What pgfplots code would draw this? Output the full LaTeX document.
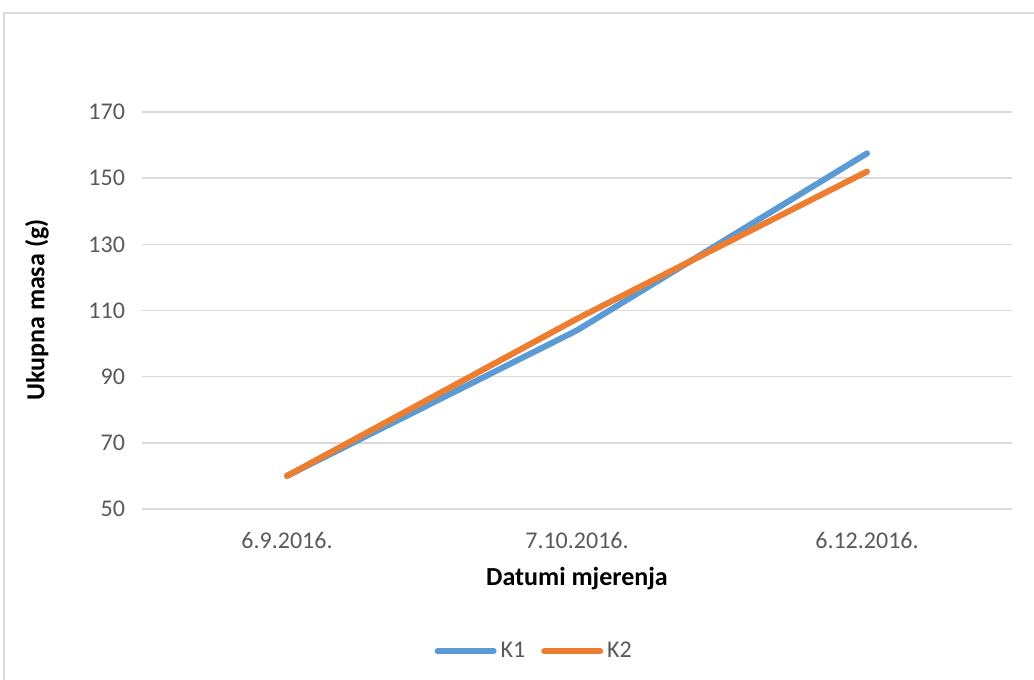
\documentclass[border=0pt]{standalone}
\usepackage{fontspec}
\setmainfont{Carlito}
\usepackage{pgfplots}
\pgfplotsset{compat=1.18}
\definecolor{kblue}{HTML}{5B9BD5}
\definecolor{korange}{HTML}{ED7D31}
\definecolor{gridc}{HTML}{D9D9D9}
\definecolor{txt}{HTML}{595959}
\begin{document}
\begin{tikzpicture}[x=1pt,y=1pt]
\useasboundingbox (0,0) rectangle (517,340);
\draw[gridc, line width=0.8pt] (2,0) -- (2,333.5) -- (517,333.5);
\begin{axis}[
	at={(71pt,85.5pt)}, anchor=south west,
	scale only axis,
	width=435pt, height=198.5pt,
	xmin=-0.5, xmax=2.5,
	ymin=50, ymax=170,
	xtick=data,
	xticklabels={6.9.2016.,7.10.2016.,6.12.2016.},
	ytick={50,70,...,170},
	ymajorgrids=true,
	grid style={gridc, line width=0.8pt},
	axis x line*=bottom,
	axis y line*=left,
	x axis line style={gridc, line width=0.8pt},
	y axis line style={draw=none},
	major tick length=0pt,
	tick label style={font=\fontsize{12}{14}\selectfont, text=txt},
	xticklabel style={yshift=-8pt},
	yticklabel style={xshift=-5pt},
	/pgf/number format/assume math mode=true,
	legend columns=2,
	legend style={draw=none, at={(0.452,-0.358)}, anchor=center,
		font=\fontsize{12}{14}\selectfont, text=txt,
		/tikz/every even column/.append style={column sep=6pt}},
	legend image code/.code={\draw[#1, line cap=round] (0pt,0pt) -- (28pt,0pt);},
	clip=false
]
\addplot[kblue, line width=3pt, line cap=round, line join=round] coordinates {
	(0, 60) (1, 104) (2, 157.5)
};
\addlegendentry{K1}
\addplot[korange, line width=3pt, line cap=round, line join=round] coordinates {
	(0, 60) (1, 107.5) (2, 152)
};
\addlegendentry{K2}
\end{axis}
\node[font=\bfseries\fontsize{13}{15}\selectfont] at (288.5,50.5) {Datumi mjerenja};
\node[font=\bfseries\fontsize{13}{15}\selectfont, rotate=90] at (18.5,185) {Ukupna masa (g)};
\end{tikzpicture}
\end{document}
